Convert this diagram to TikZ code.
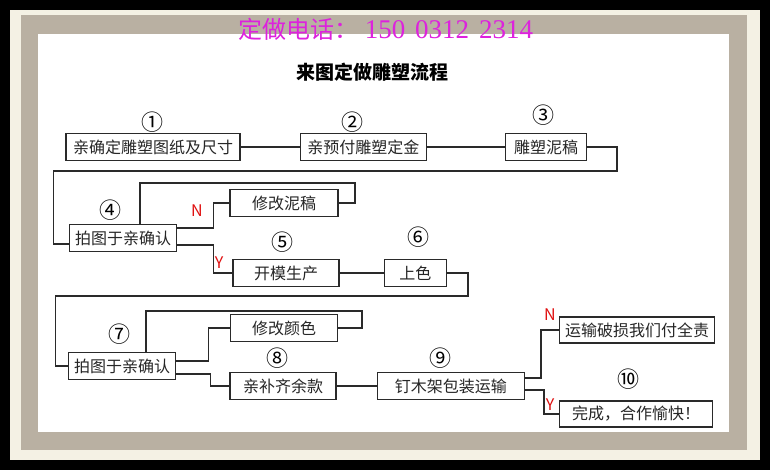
\documentclass[tikz,border=0pt]{standalone}
\usepackage{fontspec}
\usepackage{tikz}
\usetikzlibrary{positioning}
\newfontfamily\cjk{Noto Sans CJK SC}
\newfontfamily\numfont{Liberation Serif}
\definecolor{frcream}{HTML}{F4F1E4}
\definecolor{frtaupe}{HTML}{B9B0A2}
\definecolor{telpink}{HTML}{DD22DD}
\definecolor{ynred}{HTML}{E01010}
\definecolor{boxline}{HTML}{2A2A2A}

\begin{document}
\begin{tikzpicture}[x=1pt,y=-1pt,font=\cjk\fontsize{16}{18}\selectfont]
  \tikzstyle{b}=[draw=boxline,line width=1.3pt,minimum height=27pt,inner sep=0pt,text=black!85]
  \tikzstyle{num}=[font=\cjk\fontsize{22}{22}\selectfont,inner sep=0pt]
  \tikzstyle{yn}=[text=ynred,inner sep=0pt,font=\cjk\fontsize{16}{16}\selectfont]
  \tikzstyle{ln}=[draw=boxline,line width=1.2pt]
  % frame
  \useasboundingbox (0,0) rectangle (770,470);
  \fill (0,0) rectangle (770,470);
  \fill[frcream] (10,10) rectangle (760,460);
  \fill[frtaupe] (21,15) rectangle (747,450);
  \fill[white] (38,34) rectangle (729,432);
  \node[text=telpink] (tel) at (386,29) {\fontsize{24}{26}\selectfont 定做电话：\hspace{6pt}\numfont\fontsize{27}{27}\selectfont 150\hspace{10pt}0312\hspace{10pt}2314};
  \node (ttl) at (372,72) {\bfseries\fontsize{19}{21}\selectfont 来图定做雕塑流程};
  % row 1
  \node[b,minimum width=174pt] (draft) at (153,147) {亲确定雕塑图纸及尺寸};
  \node[b,minimum width=126pt,right=59pt of draft] (depo) {亲预付雕塑定金};
  \node[b,minimum width=81pt,right=78pt of depo] (clay) {雕塑泥稿};
  \node[num] (n1) at (152,122) {①};
  \node[num] (n2) at (352,122) {②};
  \node[num] (n3) at (543,115) {③};
  \draw[ln] (draft) -- (depo);
  \draw[ln] (depo) -- (clay);
  % row 2
  \node[b,minimum width=107pt] (chkA) at (123,238) {拍图于亲确认};
  \node[b,minimum width=108pt] (fixA) at (284,203) {修改泥稿};
  \node[b,minimum width=106pt] (mold) at (286,273) {开模生产};
  \node[b,minimum width=62pt,right=44pt of mold] (paint) {上色};
  \node[num] (n4) at (110,210) {④};
  \node[num] (n5) at (282,242) {⑤};
  \node[num] (n6) at (418,237) {⑥};
  \node[yn] (nA) at (197,211) {N};
  \node[yn] (yA) at (219,263) {Y};
  \draw[ln] (clay.east) -| (617,171) -| ([xshift=-15pt,yshift=-6pt]chkA.west) -- ([yshift=-6pt]chkA.west);
  \draw[ln] (fixA.east) -| (355,183) -| ([xshift=17pt]chkA.north);
  \draw[ln] ([yshift=10pt]chkA.east) -- ++(36,0) |- (fixA.west);
  \draw[ln] ([yshift=-7pt]chkA.east) -- ++(36,0) |- (mold.west);
  \draw[ln] (mold) -- (paint);
  % row 3
  \node[b,minimum width=107pt] (chkB) at (122,366) {拍图于亲确认};
  \node[b,minimum width=107pt] (fixB) at (284,328) {修改颜色};
  \node[b,minimum width=106pt] (pay) at (283,386) {亲补齐余款};
  \node[b,minimum width=147pt,right=40pt of pay] (ship) {钉木架包装运输};
  \node[b,minimum width=155pt,minimum height=26pt] (loss) at (637,330) {运输破损我们付全责};
  \node[b,minimum width=153pt,minimum height=26pt] (done) at (636,414) {完成，合作愉快！};
  \node[num] (n7) at (119,334) {⑦};
  \node[num] (n8) at (277,358) {⑧};
  \node[num] (n9) at (440,358) {⑨};
  \node[num] (n10) at (628,379) {⑩};
  \node[yn] (nB) at (550,315) {N};
  \node[yn] (yB) at (550,405) {Y};
  \draw[ln] (paint.east) -| (468,296) -| ([xshift=-12pt]chkB.west) -- (chkB.west);
  \draw[ln] (fixB.east) -| (362,311) -| ([xshift=24pt]chkB.north);
  \draw[ln] ([yshift=5pt]chkB.east) -- ++(32,0) |- (fixB.west);
  \draw[ln] ([yshift=-8pt]chkB.east) -- ++(34,0) |- (pay.west);
  \draw[ln] (pay) -- (ship);
  \draw[ln] ([yshift=8pt]ship.east) -- ++(16,0) |- (loss.west);
  \draw[ln] ([yshift=-4pt]ship.east) -- ++(19,0) |- (done.west);
\end{tikzpicture}
\end{document}
